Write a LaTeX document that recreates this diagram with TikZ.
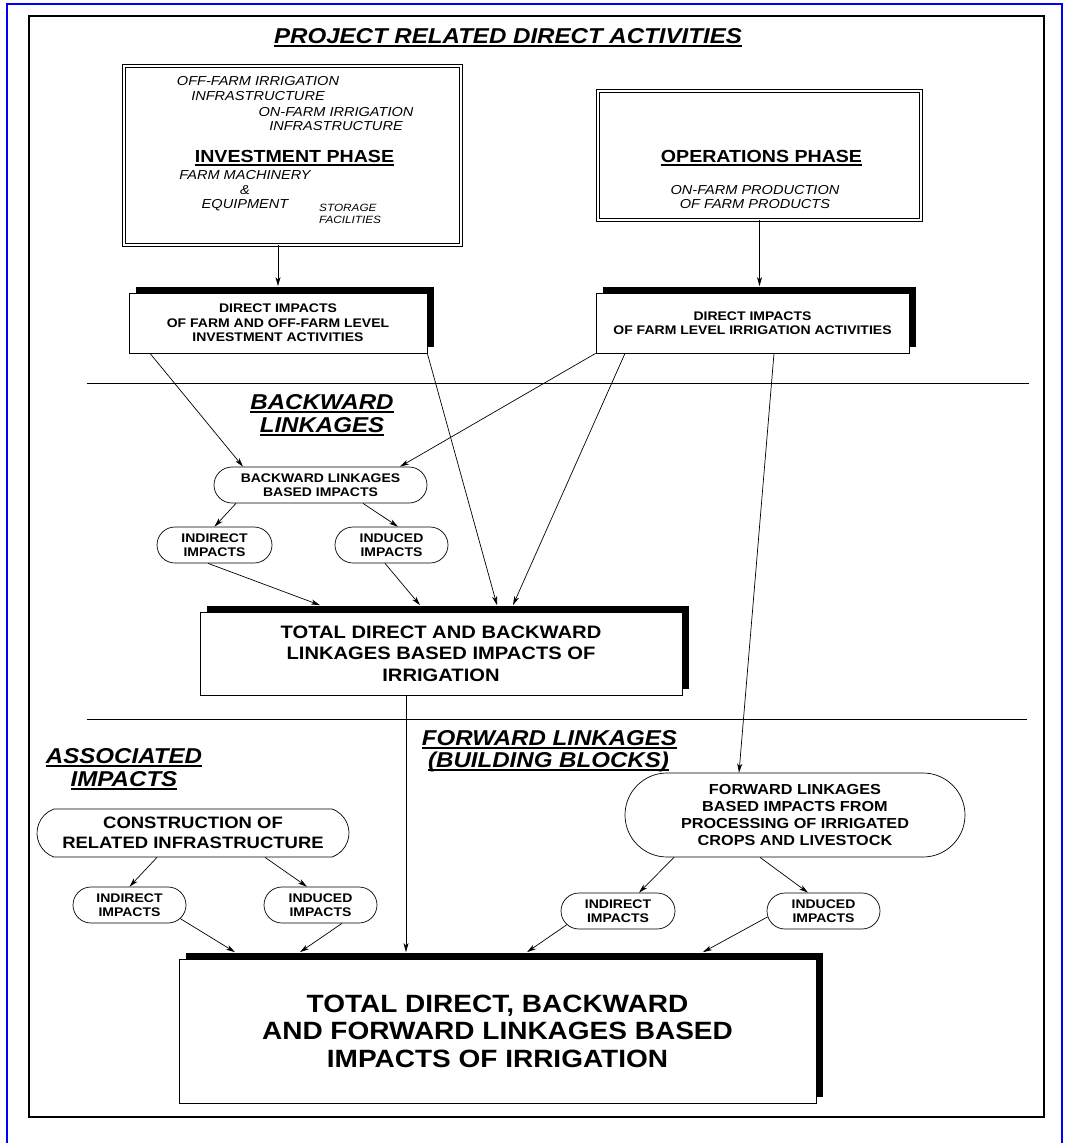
\documentclass[tikz,border=0pt]{standalone}
\usepackage{fontspec}
\setmainfont{Liberation Sans}[FakeStretch=1.12]
\usetikzlibrary{arrows.meta,calc,shapes.misc,shadows}

% underline with a chosen thickness
\newcommand{\ulined}[2][1.6pt]{\setbox0\hbox{#2}\rlap{\rule[-3.5pt]{\wd0}{#1}}\box0}

\begin{document}
\begin{tikzpicture}[x=1pt,y=-1pt,
    arr/.style={-{Stealth[length=9pt,width=5pt,inset=2.5pt]}, line width=0.7pt},
    phasebox/.style={draw, double, double distance=2pt, line width=0.8pt, inner sep=0pt},
    dirbox/.style={draw, fill=white, line width=0.7pt, align=center, inner sep=0pt,
        general shadow={fill=black, shadow xshift=7pt, shadow yshift=6.5pt},
        font=\fontsize{12.5}{14.5}\selectfont\bfseries},
    pill/.style={draw, rounded rectangle, line width=0.7pt, align=center, inner sep=0pt,
        minimum height=36pt, font=\fontsize{12.5}{14}\selectfont\bfseries},
    head/.style={anchor=base, font=\fontsize{21.5}{24}\selectfont\bfseries\itshape},
    note/.style={align=center, inner sep=0pt, font=\fontsize{13}{14.5}\selectfont\itshape},
    phasetitle/.style={anchor=base, font=\fontsize{17.5}{20}\selectfont\bfseries}
]
    \useasboundingbox (0,0) rectangle (1065,1143);

    % Blue border, open at the bottom
    \draw[blue, line width=1.7pt] (7,1150) -- (7,4) -- (1062,4) -- (1062,1150);

    % Outer frame
    \draw[line width=2pt] (29,16) rectangle (1044,1117);

    % Title
    \node[head, font=\fontsize{21.5}{24}\selectfont\bfseries\itshape] (title) at (508,43)
        {\ulined[1.8pt]{PROJECT RELATED DIRECT ACTIVITIES}};

    % Investment phase
    \node[phasebox, minimum width=337pt, minimum height=179pt] (inv) at (292.5,155.5) {};
    \node[note] (offfarm) at (258,88.7) {OFF-FARM IRRIGATION\\INFRASTRUCTURE};
    \node[note] (onfarm) at (336,119) {ON-FARM IRRIGATION\\INFRASTRUCTURE};
    \node[phasetitle] (invtitle) at (294.5,162) {\ulined[1.2pt]{INVESTMENT PHASE}};
    \node[note] (machinery) at (245,191) {FARM MACHINERY\\\&\\EQUIPMENT};
    \node[note, align=left, anchor=west, font=\fontsize{10.5}{12}\selectfont\itshape] (storage) at (319,214)
        {STORAGE\\FACILITIES};

    % Operations phase
    \node[phasebox, minimum width=323pt, minimum height=129pt] (ops) at (759.5,155.5) {};
    \node[phasetitle] (opstitle) at (761.5,162) {\ulined[1.2pt]{OPERATIONS PHASE}};
    \node[note] (farmprod) at (755,197) {ON-FARM PRODUCTION\\OF FARM PRODUCTS};

    % Direct impacts
    \node[dirbox, minimum width=298pt, minimum height=60pt] (d1) at (278,323)
        {DIRECT IMPACTS\\OF FARM AND OFF-FARM LEVEL\\INVESTMENT ACTIVITIES};
    \node[dirbox, minimum width=313pt, minimum height=60pt] (d2) at (752.5,323)
        {DIRECT IMPACTS\\OF FARM LEVEL IRRIGATION ACTIVITIES};

    % Separators
    \draw[line width=0.7pt] (87,383) -- (1029,383);
    \draw[line width=0.7pt] (87,719) -- (1027,719);

    % Backward linkages
    \node[head] (bkw1) at (322,409) {\ulined{BACKWARD}};
    \node[head] (bkw2) at (322,432) {\ulined{LINKAGES}};
    \node[pill, minimum width=213pt] (bl) at (320.5,485) {BACKWARD LINKAGES\\BASED IMPACTS};
    \node[pill, minimum width=115pt] (bind) at (214.5,545) {INDIRECT\\IMPACTS};
    \node[pill, minimum width=113pt] (bindu) at (391.5,545) {INDUCED\\IMPACTS};
    \node[dirbox, minimum width=482pt, minimum height=83pt, font=\fontsize{18}{21.5}\selectfont\bfseries]
        (tdb) at (441,653.5) {TOTAL DIRECT AND BACKWARD\\LINKAGES BASED IMPACTS OF\\IRRIGATION};

    % Associated impacts
    \node[head] (assoc1) at (124,763) {\ulined{ASSOCIATED}};
    \node[head] (assoc2) at (124,786) {\ulined{IMPACTS}};
    \node[pill, rounded rectangle arc length=140, minimum width=312pt, minimum height=48pt,
        font=\fontsize{16.5}{20}\selectfont\bfseries] (cons) at (193,833)
        {CONSTRUCTION OF\\RELATED INFRASTRUCTURE};
    \node[pill, minimum width=113pt] (aind) at (129.5,905) {INDIRECT\\IMPACTS};
    \node[pill, minimum width=113pt] (aindu) at (320.5,905) {INDUCED\\IMPACTS};

    % Forward linkages
    \node[head] (fwd1) at (549.5,745) {\ulined{FORWARD LINKAGES}};
    \node[head] (fwd2) at (548.5,767) {\ulined{(BUILDING BLOCKS)}};
    \node[pill, minimum width=340pt, minimum height=84pt, font=\fontsize{14.5}{17}\selectfont\bfseries]
        (fwd) at (795,815) {FORWARD LINKAGES\\BASED IMPACTS FROM\\PROCESSING OF IRRIGATED\\CROPS AND LIVESTOCK};
    \node[pill, minimum width=114pt] (find) at (618,911) {INDIRECT\\IMPACTS};
    \node[pill, minimum width=113pt] (findu) at (823.5,911) {INDUCED\\IMPACTS};

    % Final total
    \node[dirbox, minimum width=637pt, minimum height=144pt, font=\fontsize{25}{27.5}\selectfont\bfseries]
        (fin) at (497.5,1031) {TOTAL DIRECT, BACKWARD\\AND FORWARD LINKAGES BASED\\IMPACTS OF IRRIGATION};

    % Arrows from the phases
    \draw[arr] (d1.north |- inv.south) -- ($(d1.north)+(0,-6.5)$);
    \draw[arr] (ops.south) -- ($(ops.south |- d2.north)+(0,-6.5)$);

    % Arrows from direct impacts
    \draw[arr] ($(d1.south)+(-128,0)$) -- ($(bl.north)+(-77.5,0)$);
    \draw[arr] (d2.south west) -- ($(bl.north)+(79.5,0)$);
    \draw[arr] (d1.south east) -- ($(tdb.north)+(56,-6.5)$);
    \draw[arr] ($(d2.south)+(-127.5,0)$) -- ($(tdb.north)+(72,-6.5)$);
    \draw[arr] ($(d2.south)+(21.5,0)$) -- ($(fwd.north)+(-56,0)$);

    % Backward linkages arrows
    \draw[arr] ($(bl.south)+(-84.5,0)$) -- (bind.north);
    \draw[arr] ($(bl.south)+(42.5,0)$) -- ($(bindu.north)+(6.5,0)$);
    \draw[arr] ($(bind.south)+(-6.5,0)$) -- ($(tdb.north)+(-121,-6.5)$);
    \draw[arr] ($(bindu.south)+(-6.5,0)$) -- ($(tdb.north)+(-21,-6.5)$);

    % Down to the final total
    \coordinate (tdbout) at ($(tdb.south)+(-35,0)$);
    \draw[arr] (tdbout) -- ($(tdbout |- fin.north)+(0,-6.5)$);
    \draw[arr] ($(cons.south)+(-36,0)$) -- (aind.north);
    \draw[arr] ($(cons.south)+(72,0)$) -- ($(aindu.north)+(-13.5,0)$);
    \draw[arr] (aind.-15) -- ($(fin.north)+(-262.5,-6.5)$);
    \draw[arr] ($(aindu.south)+(21.5,0)$) -- ($(fin.north)+(-197.5,-6.5)$);
    \draw[arr] ($(fwd.south)+(-121,0)$) -- ($(find.north)+(21,0)$);
    \draw[arr] ($(fwd.south)+(-35,0)$) -- ($(findu.north)+(-15.5,0)$);
    \draw[arr] (find.195) -- ($(fin.north)+(29.5,-6.5)$);
    \draw[arr] (findu.186) -- ($(fin.north)+(205.5,-6.5)$);

\end{tikzpicture}
\end{document}
